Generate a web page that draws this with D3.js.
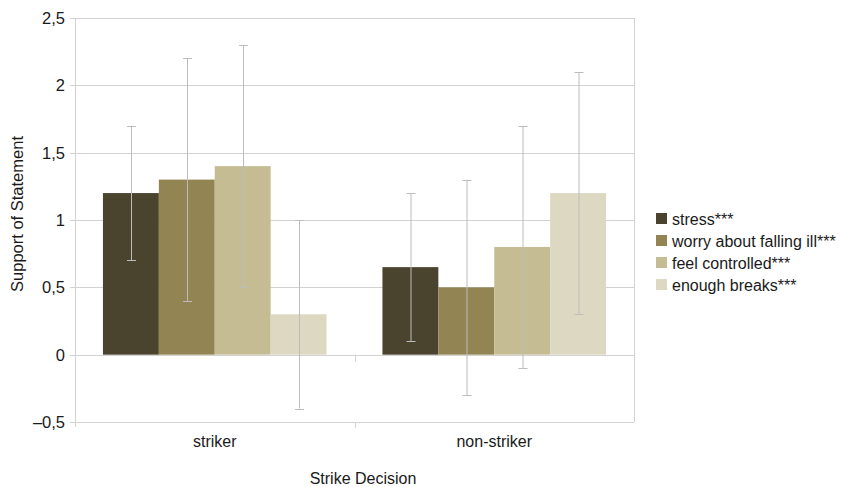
<!DOCTYPE html>
<html>
<head>
<meta charset="utf-8">
<script src="https://cdn.jsdelivr.net/npm/d3@7"></script>
<style>
  body { margin: 0; background: #fff; }
  text { font-family: "Liberation Sans", Arial, sans-serif; fill: #1a1a1a; }
</style>
</head>
<body>
<div id="chart"></div>
<script>

// data
var categories = ['striker', 'non-striker'];
var seriesNames = ['stress***', 'worry about falling ill***', 'feel controlled***', 'enough breaks***'];
var seriesColors = ['#4a442e', '#928553', '#c5bc93', '#ddd8c1'];
var means = [
  [1.2, 1.3, 1.4, 0.3],     // striker
  [0.65, 0.5, 0.8, 1.2]     // non-striker
];
var errLow = [
  [0.7, 0.4, 0.5, -0.4],
  [0.1, -0.3, -0.1, 0.3]
];
var errHigh = [
  [1.7, 2.2, 2.3, 1.0],
  [1.2, 1.3, 1.7, 2.1]
];
var yTicks = [-0.5, 0, 0.5, 1, 1.5, 2, 2.5];

var createChart = () => {

  var width = 843,
      height = 487;

  var margin = {top: 18, right: 209, bottom: 65, left: 75};

  var svg = d3.select('#chart').append('svg')
    .attr('width', width)
    .attr('height', height);

  var x0 = d3.scaleBand()
    .domain(categories)
    .range([margin.left, width - margin.right]);

  // inner band: ~28px empty on each side of a group of four bars
  var x1 = d3.scaleBand()
    .domain(seriesNames)
    .range([0, x0.bandwidth()])
    .paddingOuter(0.5)
    .paddingInner(0);

  var y = d3.scaleLinear()
    .domain([-0.5, 2.5])
    .range([height - margin.bottom, margin.top]);

  var locale = d3.formatLocale({decimal: ',', thousands: '.', grouping: [3], currency: ['', ''], minus: '\u2013'});
  var fmt = locale.format('');

  var gridColor = '#d2d2d2';

  // grid lines
  svg.append('g')
    .selectAll('line')
    .data(yTicks)
    .enter()
    .append('line')
      .attr('x1', margin.left - 5)
      .attr('x2', width - margin.right)
      .attr('y1', d => Math.round(y(d)) + 0.5)
      .attr('y2', d => Math.round(y(d)) + 0.5)
      .style('stroke', gridColor)
      .style('stroke-width', 1);

  // left and right frame
  svg.append('line')
    .attr('x1', margin.left + 0.5).attr('x2', margin.left + 0.5)
    .attr('y1', margin.top).attr('y2', height - margin.bottom + 5)
    .style('stroke', gridColor);
  svg.append('line')
    .attr('x1', width - margin.right + 0.5).attr('x2', width - margin.right + 0.5)
    .attr('y1', margin.top).attr('y2', height - margin.bottom)
    .style('stroke', gridColor);

  // y tick labels
  svg.append('g')
    .selectAll('text')
    .data(yTicks)
    .enter()
    .append('text')
      .attr('x', margin.left - 10)
      .attr('y', d => y(d))
      .attr('dy', '0.36em')
      .attr('text-anchor', 'end')
      .style('font-size', '16.5px')
      .text(d => fmt(d));

  // bars
  var groups = svg.append('g')
    .selectAll('g')
    .data(categories)
    .enter()
    .append('g')
      .attr('transform', d => 'translate(' + x0(d) + ',0)');

  groups.selectAll('rect')
    .data((d, i) => means[i].map((v, j) => ({s: seriesNames[j], v: v, j: j})))
    .enter()
    .append('rect')
      .attr('x', d => x1(d.s))
      .attr('width', x1.bandwidth())
      .attr('y', d => y(Math.max(0, d.v)))
      .attr('height', d => Math.abs(y(d.v) - y(0)))
      .style('fill', d => seriesColors[d.j]);

  // category ticks on zero line and bottom
  var sep = x0(categories[1]);
  svg.append('line')
    .attr('x1', Math.round(sep) + 0.5).attr('x2', Math.round(sep) + 0.5)
    .attr('y1', y(0)).attr('y2', y(0) + 7)
    .style('stroke', gridColor);
  svg.append('line')
    .attr('x1', Math.round(sep) + 0.5).attr('x2', Math.round(sep) + 0.5)
    .attr('y1', y(-0.5)).attr('y2', y(-0.5) + 6)
    .style('stroke', gridColor);

  // error bars
  var errColor = '#bcbcbc';
  var cap = 4.5;
  var eb = groups.selectAll('g.err')
    .data((d, i) => seriesNames.map((s, j) => ({s: s, lo: errLow[i][j], hi: errHigh[i][j]})))
    .enter()
    .append('g')
      .attr('class', 'err')
      .attr('transform', d => 'translate(' + (Math.round(x1(d.s) + x1.bandwidth() / 2) + 0.5) + ',0)');

  eb.append('line')
    .attr('y1', d => y(d.lo)).attr('y2', d => y(d.hi))
    .style('stroke', errColor).style('stroke-width', 1);
  eb.append('line')
    .attr('x1', -cap).attr('x2', cap)
    .attr('y1', d => Math.round(y(d.hi)) + 0.5).attr('y2', d => Math.round(y(d.hi)) + 0.5)
    .style('stroke', errColor);
  eb.append('line')
    .attr('x1', -cap).attr('x2', cap)
    .attr('y1', d => Math.round(y(d.lo)) + 0.5).attr('y2', d => Math.round(y(d.lo)) + 0.5)
    .style('stroke', errColor);

  // category labels
  svg.append('g')
    .selectAll('text')
    .data(categories)
    .enter()
    .append('text')
      .attr('x', d => x0(d) + x0.bandwidth() / 2)
      .attr('y', 447)
      .attr('text-anchor', 'middle')
      .style('font-size', '16px')
      .text(d => d);

  // axis titles
  svg.append('text')
    .attr('x', 363)
    .attr('y', 484)
    .attr('text-anchor', 'middle')
    .style('font-size', '16px')
    .text('Strike Decision');

  svg.append('text')
    .attr('transform', 'translate(23,214) rotate(-90)')
    .attr('text-anchor', 'middle')
    .style('font-size', '16.5px')
    .text('Support of Statement');

  // legend
  var legend = svg.append('g')
    .selectAll('g')
    .data(seriesNames)
    .enter()
    .append('g')
      .attr('transform', (d, i) => 'translate(656,' + (213 + i * 22) + ')');

  legend.append('rect')
    .attr('width', 11)
    .attr('height', 11)
    .style('fill', (d, i) => seriesColors[i]);

  legend.append('text')
    .attr('x', 16)
    .attr('y', 6)
    .attr('dy', '0.35em')
    .style('font-size', '16px')
    .text(d => d);
};

createChart();
</script>
</body>
</html>
